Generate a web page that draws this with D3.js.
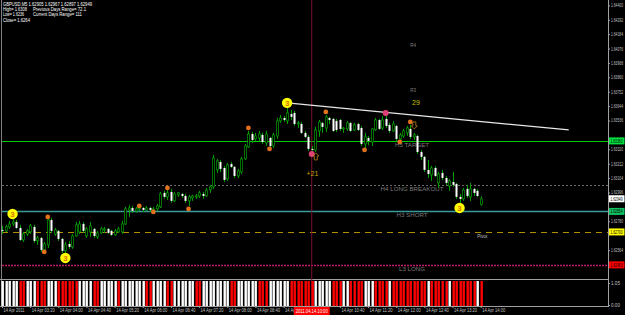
<!DOCTYPE html>
<html>
<head>
<meta charset="utf-8">
<script src="https://cdn.jsdelivr.net/npm/d3@7"></script>
<style>
  body { margin: 0; background: #000; }
  svg { display: block; }
  text { font-family: "Liberation Sans", Arial, sans-serif; }
</style>
</head>
<body>
<script>
// GBPUSD M5, 14 Apr 2011, one bar every 5 minutes from 02:40 to 14:00
const opens = [
  1.62715,1.62708,1.62738,1.62760,1.62775,1.62730,1.62640,1.62685,1.62700,1.62738,
  1.62633,1.62655,1.62565,1.62603,1.62790,1.62685,1.62708,1.62648,1.62558,1.62610,
  1.62588,1.62670,1.62700,1.62760,1.62670,1.62700,1.62723,1.62663,1.62693,1.62715,
  1.62723,1.62708,1.62678,1.62700,1.62700,1.62760,1.62865,1.62880,1.62858,1.62873,
  1.62880,1.62865,1.62880,1.62865,1.62873,1.62888,1.62993,1.62963,1.63000,1.62933,
  1.62978,1.62985,1.62970,1.62933,1.62955,1.62963,1.62970,1.62985,1.62970,1.63015,
  1.63038,1.63165,1.63225,1.63180,1.63098,1.63210,1.63188,1.63120,1.63150,1.63248,
  1.63338,1.63435,1.63398,1.63405,1.63428,1.63368,1.63405,1.63345,1.63420,1.63533,
  1.63555,1.63533,1.63585,1.63593,1.63510,1.63510,1.63443,1.63413,1.63323,1.63315,
  1.63458,1.63518,1.63480,1.63555,1.63548,1.63533,1.63540,1.63473,1.63473,1.63518,
  1.63465,1.63510,1.63480,1.63360,1.63405,1.63375,1.63465,1.63540,1.63480,1.63548,
  1.63503,1.63458,1.63495,1.63398,1.63420,1.63443,1.63473,1.63413,1.63420,1.63300,
  1.63263,1.63165,1.63128,1.63180,1.63068,1.63143,1.63105,1.63045,1.63075,1.63060,
  1.62963,1.62948,1.63023,1.62963,1.63023,1.63008,1.62905
]
const highs = [
  1.62745,1.62753,1.62783,1.62805,1.62790,1.62753,1.62700,1.62723,1.62760,1.62753,
  1.62670,1.62663,1.62625,1.62813,1.62805,1.62730,1.62715,1.62655,1.62625,1.62633,
  1.62685,1.62775,1.62783,1.62775,1.62738,1.62775,1.62730,1.62708,1.62738,1.62738,
  1.62730,1.62715,1.62723,1.62738,1.62783,1.62888,1.62903,1.62895,1.62888,1.62903,
  1.62888,1.62895,1.62888,1.62888,1.62910,1.63000,1.63008,1.63015,1.63023,1.63000,
  1.63000,1.62993,1.62985,1.62978,1.62978,1.62985,1.63008,1.63000,1.63030,1.63053,
  1.63278,1.63248,1.63240,1.63195,1.63218,1.63225,1.63195,1.63173,1.63263,1.63360,
  1.63458,1.63450,1.63443,1.63458,1.63443,1.63458,1.63413,1.63443,1.63555,1.63578,
  1.63570,1.63638,1.63615,1.63608,1.63533,1.63525,1.63458,1.63428,1.63345,1.63488,
  1.63540,1.63525,1.63578,1.63563,1.63555,1.63548,1.63548,1.63488,1.63533,1.63525,
  1.63518,1.63518,1.63495,1.63443,1.63420,1.63480,1.63555,1.63548,1.63570,1.63593,
  1.63518,1.63533,1.63503,1.63443,1.63473,1.63495,1.63503,1.63443,1.63428,1.63315,
  1.63270,1.63240,1.63195,1.63195,1.63150,1.63165,1.63120,1.63098,1.63150,1.63068,
  1.62985,1.63030,1.63053,1.63068,1.63030,1.63023,1.62967
]
const lows = [
  1.62685,1.62700,1.62723,1.62745,1.62723,1.62633,1.62625,1.62670,1.62685,1.62618,
  1.62603,1.62550,1.62543,1.62580,1.62693,1.62670,1.62633,1.62543,1.62520,1.62573,
  1.62573,1.62663,1.62685,1.62693,1.62655,1.62663,1.62655,1.62648,1.62685,1.62693,
  1.62685,1.62670,1.62670,1.62693,1.62685,1.62753,1.62813,1.62843,1.62843,1.62858,
  1.62850,1.62858,1.62850,1.62835,1.62858,1.62880,1.62948,1.62940,1.62918,1.62925,
  1.62963,1.62955,1.62918,1.62895,1.62933,1.62948,1.62955,1.62948,1.62963,1.62993,
  1.63023,1.63143,1.63150,1.63075,1.63083,1.63180,1.63105,1.63105,1.63135,1.63240,
  1.63330,1.63368,1.63383,1.63383,1.63360,1.63345,1.63330,1.63330,1.63398,1.63518,
  1.63525,1.63510,1.63540,1.63495,1.63480,1.63435,1.63405,1.63308,1.63278,1.63300,
  1.63413,1.63443,1.63450,1.63510,1.63450,1.63450,1.63458,1.63443,1.63458,1.63450,
  1.63458,1.63458,1.63345,1.63315,1.63353,1.63345,1.63458,1.63465,1.63465,1.63480,
  1.63443,1.63450,1.63383,1.63375,1.63405,1.63420,1.63398,1.63390,1.63285,1.63240,
  1.63150,1.63105,1.63083,1.63113,1.63030,1.63090,1.63053,1.63008,1.63038,1.62948,
  1.62910,1.62933,1.62955,1.62933,1.62970,1.62963,1.62897
]
const closes = [
  1.62708,1.62738,1.62760,1.62775,1.62730,1.62640,1.62685,1.62708,1.62745,1.62633,
  1.62655,1.62565,1.62610,1.62790,1.62708,1.62715,1.62648,1.62558,1.62603,1.62588,
  1.62670,1.62753,1.62760,1.62708,1.62723,1.62745,1.62670,1.62693,1.62723,1.62723,
  1.62693,1.62678,1.62708,1.62723,1.62760,1.62873,1.62880,1.62858,1.62873,1.62880,
  1.62865,1.62880,1.62865,1.62873,1.62895,1.62985,1.62963,1.62993,1.62933,1.62985,
  1.62993,1.62970,1.62933,1.62963,1.62970,1.62970,1.62993,1.62970,1.63015,1.63038,
  1.63255,1.63233,1.63173,1.63090,1.63203,1.63188,1.63120,1.63158,1.63248,1.63345,
  1.63435,1.63390,1.63420,1.63435,1.63375,1.63435,1.63345,1.63428,1.63533,1.63555,
  1.63540,1.63593,1.63563,1.63510,1.63518,1.63443,1.63413,1.63323,1.63315,1.63465,
  1.63525,1.63488,1.63563,1.63540,1.63458,1.63465,1.63473,1.63480,1.63518,1.63458,
  1.63503,1.63465,1.63360,1.63413,1.63383,1.63473,1.63540,1.63473,1.63540,1.63495,
  1.63458,1.63510,1.63398,1.63428,1.63458,1.63480,1.63413,1.63428,1.63300,1.63263,
  1.63165,1.63135,1.63180,1.63120,1.63135,1.63105,1.63068,1.63083,1.63053,1.62963,
  1.62948,1.63015,1.62970,1.63023,1.62993,1.62970,1.62949
]

// histogram colours in the lower window, one per bar (r = red, w = white)
const histColours =
  'wwwwwrrwwwrrrwwwrrrrrrwwwwrrwwwwwrwwwwwwwrrwwwwrrwwwwwwrrwwwwwwwwrrwwwwwwrrrwwwwwwrrrrrrrwwwwwrrrwwrrrrwwwrrrrwrrrrrrrrrrwrrrrrwrrrrrrrwrrr'

// Camarilla levels
const levelNames  = ['H5 TARGET', 'H4 LONG BREAKOUT', 'H3 SHORT', 'Pivot', 'L3 LONG']
const levelPrices = [1.63383, 1.63053, 1.62854, 1.62700, 1.62453]
const r3Price = 1.63765, r4Price = 1.64103

// markers
const waveIdx = [3, 18, 81, 130]
const wavePrice = [1.62835, 1.62505, 1.63668, 1.62880]
const fractalIdx = [12, 13, 39, 43, 47, 53, 70, 76, 92, 103, 113, 116]
const fractalPrice = [1.62550, 1.62813, 1.62895, 1.62850, 1.63030, 1.62873, 1.63480, 1.63323, 1.63600, 1.63315, 1.63375, 1.63525]
const pinkIdx = [88, 109]
const pinkPrice = [1.63285, 1.63593]

// trend line (bar index, price)
const trendIdx = [81, 161]
const trendPrice = [1.63668, 1.63465]

const bidPrice = 1.62949
const vlineIdx = 88

const priceTicks = [1.64400,1.64292,1.64184,1.64076,1.63968,1.63860,1.63752,1.63644,1.63536,1.63428,
                    1.63320,1.63212,1.63104,1.62996,1.62888,1.62780,1.62672,1.62564,1.62456]
const timeIdx = [0, 8, 16, 24, 32, 40, 48, 56, 64, 72, 80, 96, 104, 112, 120, 128, 136]
const timeLabels = ['14 Apr 2011','14 Apr 03:20','14 Apr 04:00','14 Apr 04:40','14 Apr 05:20','14 Apr 06:00',
  '14 Apr 06:40','14 Apr 07:20','14 Apr 08:00','14 Apr 08:40','14 Apr 09:20','14 Apr 10:40','14 Apr 11:20',
  '14 Apr 12:00','14 Apr 12:40','14 Apr 13:20','14 Apr 14:00']

const headerLines = [
  ['GBPUSD,M5  1.62905 1.62967 1.62897 1.62949', ''],
  ['High= 1.6308', 'Previous Days Range= 72.1'],
  ['Low= 1.6236', 'Current Days Range= 111'],
  ['Close= 1.6264', '']
]

/******************************************
 * SETUP
 ******************************************/
let svg = d3.select('body').append('svg')
  .attr('width', 625)
  .attr('height', 315)

svg.append('rect').attr('width', 625).attr('height', 315).attr('fill', '#000')

let x = d3.scaleLinear().domain([0, 136]).range([2, 480.7])
let y = d3.scaleLinear().domain([1.62452, 1.644025]).range([265, 5])
let yInd = d3.scaleLinear().domain([0, 1.05]).range([305, 283])

const axisX = 608

// frame
svg.append('line').attr('x1', 1.5).attr('x2', 1.5).attr('y1', 0).attr('y2', 306).attr('stroke', '#808080')
svg.append('line').attr('x1', 0).attr('x2', axisX).attr('y1', 279.5).attr('y2', 279.5).attr('stroke', '#a0a0a0')
svg.append('line').attr('x1', 0).attr('x2', axisX).attr('y1', 306.5).attr('y2', 306.5).attr('stroke', '#a0a0a0')
svg.append('line').attr('x1', axisX + 0.5).attr('x2', axisX + 0.5).attr('y1', 0).attr('y2', 307).attr('stroke', '#a0a0a0')

/******************************************
 * LEVELS
 ******************************************/
const levelStyle = [
  { stroke: '#00d000', width: 1.2, dash: null },
  { stroke: '#6a6a6a', width: 1, dash: '2,2' },
  { stroke: '#3a9a9a', width: 1.5, dash: null },
  { stroke: '#b09000', width: 1.2, dash: '6,5' },
  { stroke: '#c0186a', width: 1.5, dash: '2,1' }
]
let main = svg.append('g')

levelPrices.forEach((p, i) => {
  main.append('line')
    .attr('x1', 2).attr('x2', axisX)
    .attr('y1', Math.round(y(p)) + 0.5).attr('y2', Math.round(y(p)) + 0.5)
    .attr('stroke', levelStyle[i].stroke)
    .attr('stroke-width', levelStyle[i].width)
    .attr('stroke-dasharray', levelStyle[i].dash)
})

// vertical line
main.append('line')
  .attr('x1', x(vlineIdx)).attr('x2', x(vlineIdx))
  .attr('y1', 0).attr('y2', 306)
  .attr('stroke', '#7a1030')

// level captions
levelNames.forEach((n, i) => {
  main.append('text')
    .attr('x', n === 'Pivot' ? x(135) : x(116.5))
    .attr('y', y(levelPrices[i]) + 6)
    .attr('text-anchor', n === 'Pivot' ? 'start' : 'middle')
    .attr('font-size', n === 'Pivot' ? 4.5 : 6.2)
    .attr('fill', n === 'Pivot' ? '#c0c0c0' : '#7a7a7a')
    .text(n)
})
main.append('text').attr('x', x(116)).attr('y', y(r4Price) + 2).attr('font-size', 4.5).attr('fill', '#808080').text('R4')
main.append('text').attr('x', x(116)).attr('y', y(r3Price) + 2).attr('font-size', 4.5).attr('fill', '#808080').text('R3')
main.append('text').attr('x', x(116.5)).attr('y', y(1.63668) + 2).attr('font-size', 7).attr('fill', '#c8c000').text('29')
main.append('text').attr('x', x(86.5)).attr('y', y(1.63135) + 2).attr('font-size', 7).attr('fill', '#c8a000').text('+21')

/******************************************
 * CANDLES
 ******************************************/
let bars = d3.range(opens.length).map(i => ({ i, o: opens[i], h: highs[i], l: lows[i], c: closes[i] }))

let candles = main.selectAll('g.candle').data(bars).enter().append('g')

candles.append('line')
  .attr('x1', d => Math.round(x(d.i)) + 0.5).attr('x2', d => Math.round(x(d.i)) + 0.5)
  .attr('y1', d => y(d.h)).attr('y2', d => y(d.l))
  .attr('stroke', '#00a000')

candles.append('rect')
  .attr('x', d => Math.round(x(d.i)) - 0.5)
  .attr('y', d => y(Math.max(d.o, d.c)))
  .attr('width', 2)
  .attr('height', d => Math.max(1, Math.abs(y(d.o) - y(d.c))))
  .attr('fill', d => d.c >= d.o ? '#000' : '#fff')
  .attr('stroke', d => d.c >= d.o ? '#00a000' : 'none')
  .attr('stroke-width', 0.7)

// trend line
main.append('line')
  .attr('x1', x(trendIdx[0])).attr('y1', y(trendPrice[0]))
  .attr('x2', x(trendIdx[1])).attr('y2', y(trendPrice[1]))
  .attr('stroke', '#e8e8e8').attr('stroke-width', 1.2)

// fractals
main.selectAll('circle.fr').data(fractalIdx).enter().append('circle')
  .attr('cx', d => x(d)).attr('cy', (d, i) => y(fractalPrice[i]))
  .attr('r', 2.4).attr('fill', '#e0701c')

main.selectAll('circle.pk').data(pinkIdx).enter().append('circle')
  .attr('cx', d => x(d)).attr('cy', (d, i) => y(pinkPrice[i]))
  .attr('r', 3).attr('fill', '#e0407a')

// wave markers
let waves = main.selectAll('g.wave').data(waveIdx).enter().append('g')
  .attr('transform', (d, i) => 'translate(' + x(d) + ',' + y(wavePrice[i]) + ')')
waves.append('circle').attr('r', 5.2).attr('fill', '#ffff00')
waves.append('text').attr('y', 3).attr('text-anchor', 'middle').attr('font-size', 8).attr('font-weight', 'bold')
  .attr('fill', '#e07000').text('3')

// little arrows
main.append('path')
  .attr('d', 'M0,-4 L3,-1 L1.5,-1 L1.5,3 L-1.5,3 L-1.5,-1 L-3,-1 Z')
  .attr('transform', 'translate(' + (x(89) + 0.5) + ',' + y(1.63263) + ')')
  .attr('fill', 'none').attr('stroke', '#c08020').attr('stroke-width', 0.8)
main.append('path')
  .attr('d', 'M0,4 L3,1 L1.5,1 L1.5,-3 L-1.5,-3 L-1.5,1 L-3,1 Z')
  .attr('transform', 'translate(' + (x(117) + 0.5) + ',' + y(1.63503) + ')')
  .attr('fill', 'none').attr('stroke', '#c08020').attr('stroke-width', 0.8)

/******************************************
 * INDICATOR WINDOW
 ******************************************/
svg.append('g').selectAll('rect').data(bars).enter().append('rect')
  .attr('x', d => Math.round(x(d.i)) - 0.5)
  .attr('y', yInd(1.05) - 2)
  .attr('width', 2.4)
  .attr('height', yInd(0) - yInd(1.05) + 3)
  .attr('fill', d => histColours[d.i] === 'r' ? '#ff0000' : '#ffffff')

/******************************************
 * AXES
 ******************************************/
const hidden = [1.63383, 1.62949, 1.62854, 1.62700, 1.62453]
let priceAxis = svg.append('g')
  .attr('transform', 'translate(' + axisX + ',0)')
  .call(d3.axisRight(y).tickValues(priceTicks.filter(t => !hidden.some(h => Math.abs(y(h) - y(t)) < 6)))
    .tickSize(2).tickPadding(1).tickFormat(d3.format('.5f')))
priceAxis.select('.domain').remove()
priceAxis.selectAll('line').attr('stroke', '#a0a0a0')
priceAxis.selectAll('text').attr('fill', '#c0c0c0').attr('font-size', 4.6)
  .attr('textLength', 12).attr('lengthAdjust', 'spacingAndGlyphs')

let indAxis = svg.append('g')
  .attr('transform', 'translate(' + axisX + ',0)')
  .call(d3.axisRight(yInd).tickValues([0, 1.05]).tickSize(2).tickPadding(1).tickFormat(d3.format('.2f')))
indAxis.select('.domain').remove()
indAxis.selectAll('line').attr('stroke', '#a0a0a0')
indAxis.selectAll('text').attr('fill', '#c0c0c0').attr('font-size', 4.6)

// coloured price boxes
const boxPrices = [1.63383, bidPrice, 1.62854, 1.62700, 1.62453]
const boxColours = ['#00e040', '#ffffff', '#10c060', '#ffff00', '#ff0000']
boxPrices.forEach((p, i) => {
  let g = svg.append('g').attr('transform', 'translate(' + (axisX + 1) + ',' + y(p) + ')')
  g.append('rect').attr('x', 0).attr('y', -3.5).attr('width', 15.5).attr('height', 7).attr('fill', boxColours[i])
  g.append('text').attr('x', 1.5).attr('y', 1.8).attr('font-size', 4.6).attr('fill', '#000')
    .attr('textLength', 12).attr('lengthAdjust', 'spacingAndGlyphs').text(p.toFixed(5))
})

let timeAxis = svg.append('g')
  .attr('transform', 'translate(0,306)')
  .call(d3.axisBottom(x).tickValues(timeIdx).tickSize(2).tickPadding(1)
    .tickFormat((d, i) => timeLabels[i]))
timeAxis.select('.domain').remove()
timeAxis.selectAll('line').attr('stroke', '#a0a0a0')
timeAxis.selectAll('text').attr('fill', '#c0c0c0').attr('font-size', 4.8)
  .attr('text-anchor', 'start').attr('dx', 1)
  .attr('textLength', (d, i) => i === 0 ? 21 : 23).attr('lengthAdjust', 'spacingAndGlyphs')

// vertical line time box
let vb = svg.append('g').attr('transform', 'translate(' + x(vlineIdx) + ',307)')
vb.append('rect').attr('x', -18).attr('y', 0).attr('width', 36).attr('height', 8).attr('fill', '#ff0000')
vb.append('text').attr('x', 0).attr('y', 6).attr('text-anchor', 'middle').attr('font-size', 4.8).attr('fill', '#fff')
  .attr('textLength', 32).attr('lengthAdjust', 'spacingAndGlyphs')
  .text('2011.04.14 10:00')

/******************************************
 * HEADER
 ******************************************/
const headerLen = [[89, 0], [24, 53], [21, 49], [27, 0]]
headerLines.forEach((l, i) => {
  svg.append('text').attr('x', 3).attr('y', 6 + i * 5.2).attr('font-size', 4.8).attr('fill', '#fff')
    .attr('textLength', headerLen[i][0]).attr('lengthAdjust', 'spacingAndGlyphs').text(l[0])
  if (l[1]) {
    svg.append('text').attr('x', 33).attr('y', 6 + i * 5.2).attr('font-size', 4.8).attr('fill', '#fff')
      .attr('textLength', headerLen[i][1]).attr('lengthAdjust', 'spacingAndGlyphs').text(l[1])
  }
})
</script>
</body>
</html>
